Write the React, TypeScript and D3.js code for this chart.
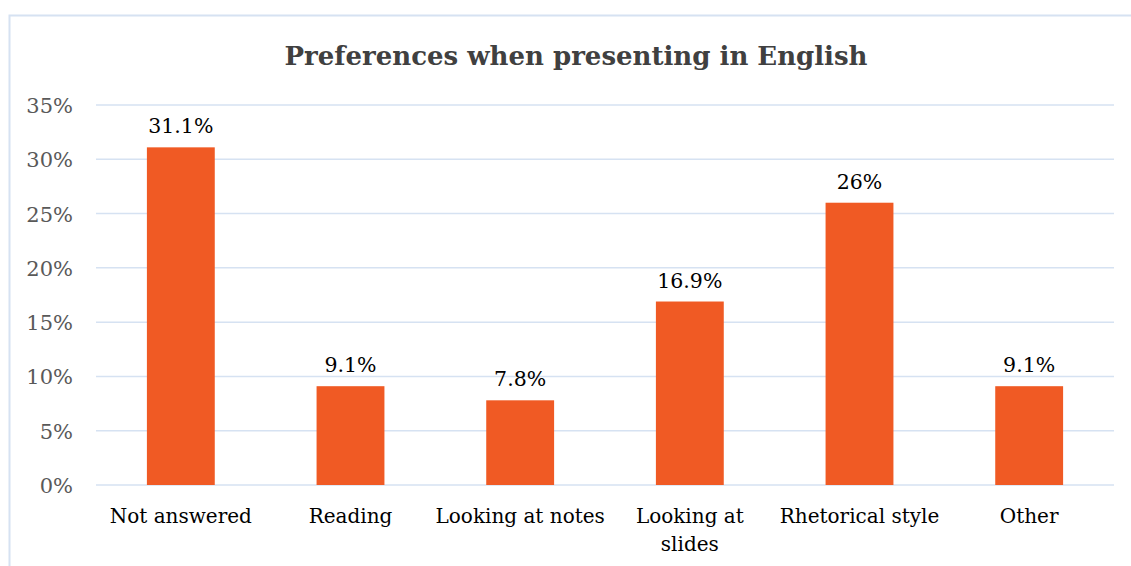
import React from "react";
import * as d3 from "d3";

const categories: string[][] = [
  ["Not answered"],
  ["Reading"],
  ["Looking at notes"],
  ["Looking at", "slides"],
  ["Rhetorical style"],
  ["Other"],
];
const values: number[] = [31.1, 9.1, 7.8, 16.9, 26, 9.1];
const valueLabels: string[] = ["31.1%", "9.1%", "7.8%", "16.9%", "26%", "9.1%"];
const yTicks: number[] = [0, 5, 10, 15, 20, 25, 30, 35];
const title = "Preferences when presenting in English";

const W = 1131;
const H = 566;
const FONT = "'DejaVu Serif', 'Liberation Serif', serif";

export default function App() {
  const left = 96, right = 1114, top = 105, bottom = 485;
  const x = d3.scaleBand<number>().domain(d3.range(categories.length)).range([left, right]);
  const y = d3.scaleLinear().domain([0, 35]).range([bottom, top]);
  const barW = x.bandwidth() * 0.4;

  return (
    <svg width={W} height={H} style={{ position: "absolute", left: 0, top: 0, background: "#fff" }}>
      <rect x={9.5} y={15.5} width={W + 10} height={H + 10} fill="#fff" stroke="#D6E2F2" strokeWidth={2} />
      <text x={576} y={65} textAnchor="middle" fontFamily={FONT} fontWeight="bold" fontSize={26} fill="#404040">
        {title}
      </text>
      {yTicks.map((t) => (
        <g key={t}>
          <line x1={left} x2={right} y1={y(t)} y2={y(t)} stroke="#D6E2F2" strokeWidth={1.5} />
          <text x={73} y={y(t) + 8} textAnchor="end" fontFamily={FONT} fontSize={21} fill="#595959">
            {t}%
          </text>
        </g>
      ))}
      {values.map((v, i) => {
        const cx = (x(i) as number) + x.bandwidth() / 2;
        return (
          <g key={i}>
            <rect x={cx - barW / 2} y={y(v)} width={barW} height={y(0) - y(v)} fill="#F05A24" />
            <text x={cx} y={y(v) - 14} textAnchor="middle" fontFamily={FONT} fontSize={20.5} fill="#000">
              {valueLabels[i]}
            </text>
            {categories[i].map((line, j) => (
              <text key={j} x={cx} y={523 + j * 28} textAnchor="middle" fontFamily={FONT} fontSize={20} fill="#000">
                {line}
              </text>
            ))}
          </g>
        );
      })}
    </svg>
  );
}
